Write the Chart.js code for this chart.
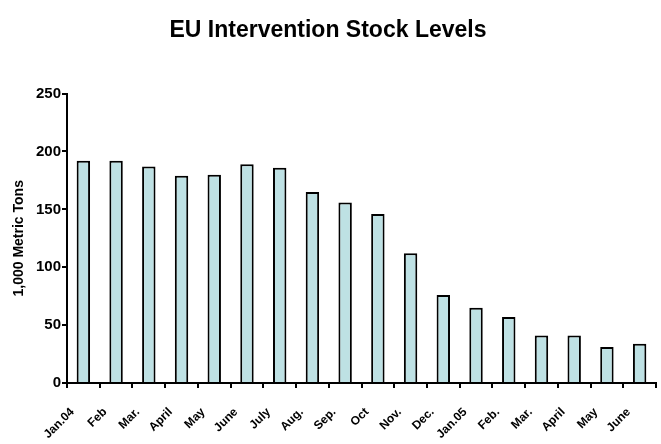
<!DOCTYPE html>
<html>
<head>
<meta charset="utf-8">
<script src="https://cdn.jsdelivr.net/npm/chart.js@4"></script>
<style>
html,body{margin:0;padding:0;background:#fff;}
#wrap{width:661px;height:444px;}
</style>
</head>
<body>
<div id="wrap"><canvas id="c" width="661" height="444"></canvas></div>
<script>
const categories = ["Jan.04","Feb","Mar.","April","May","June","July","Aug.","Sep.","Oct","Nov.","Dec.","Jan.05","Feb.","Mar.","April","May","June"];
const stockLevels = [192,192,187,179,180,189,186,165,156,146,112,76,65,57,41,41,31,34];
const yTicks = [0,50,100,150,200,250];

const font = "'Liberation Sans', Arial, sans-serif";

new Chart(document.getElementById('c'), {
  type: 'bar',
  data: {
    labels: categories,
    datasets: [{
      data: stockLevels,
      backgroundColor: 'rgb(190,225,228)',
      borderColor: '#000',
      borderWidth: 2,
      borderSkipped: 'bottom',
      categoryPercentage: 1,
      barPercentage: 0.41
    }]
  },
  options: {
    responsive: false,
    animation: false,
    devicePixelRatio: 1,
    layout: {padding: {left: 0, right: 5, top: 0, bottom: 0}},
    plugins: {
      legend: {display: false},
      tooltip: {enabled: false},
      title: {
        display: true,
        text: 'EU Intervention Stock Levels',
        color: '#000',
        font: {family: font, size: 23, weight: 'bold'},
        padding: {top: 17, bottom: 49}
      }
    },
    scales: {
      x: {
        offset: true,
        afterFit: (s) => { s.height = 61; s.paddingRight = 0; s.paddingLeft = 0; },
        border: {color: '#000', width: 2},
        grid: {display: true, drawOnChartArea: false, drawTicks: true, tickLength: 5, color: '#000', lineWidth: 2, offset: true},
        ticks: {
          color: '#000',
          font: {family: font, size: 12, weight: 'bold'},
          maxRotation: 45, minRotation: 45,
          autoSkip: false,
          padding: 17,
          labelOffset: -11
        }
      },
      y: {
        min: 0, max: 250,
        afterFit: (s) => { s.width = 67; },
        afterBuildTicks: (s) => { s.ticks = yTicks.map(v => ({value: v})); },
        border: {color: '#000', width: 2},
        grid: {display: true, drawOnChartArea: false, drawTicks: true, tickLength: 5, color: '#000', lineWidth: 2},
        ticks: {
          color: '#000',
          font: {family: font, size: 15, weight: 'bold'},
          padding: 1
        },
        title: {
          display: true,
          text: '1,000 Metric Tons',
          color: '#000',
          font: {family: font, size: 14, weight: 'bold'},
          padding: {top: 11, bottom: 0}
        }
      }
    }
  }
});
</script>
</body>
</html>
